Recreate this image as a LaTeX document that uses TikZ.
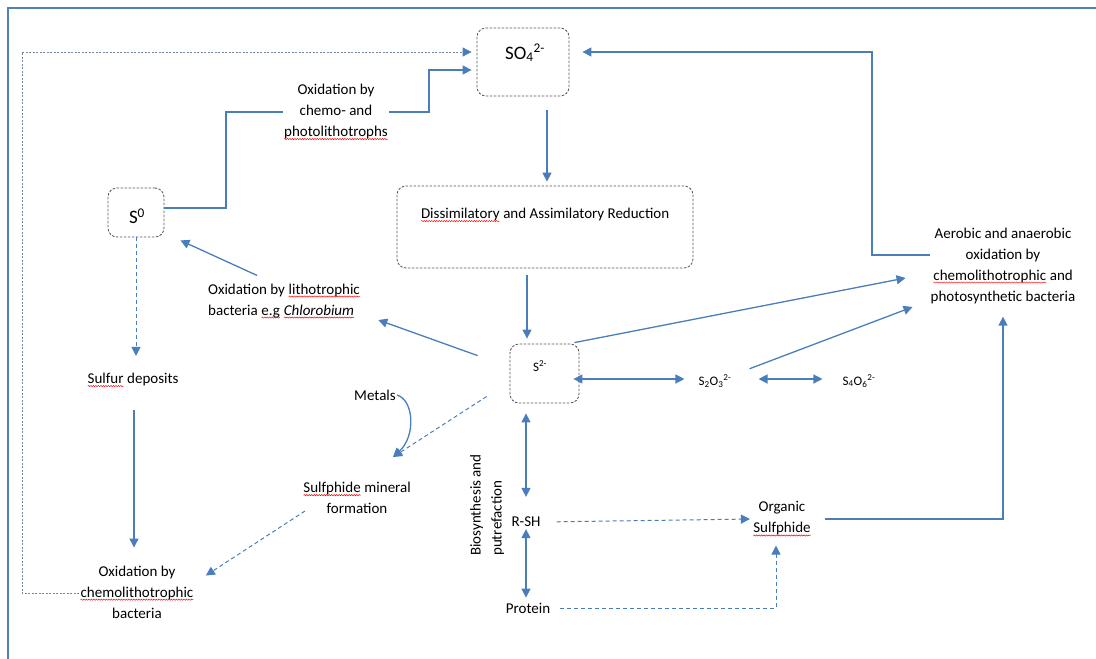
\documentclass[tikz,border=0pt]{standalone}
\usepackage{fontspec}
\setmainfont{Carlito}
\usetikzlibrary{arrows.meta,calc,decorations.pathmorphing}
\definecolor{ablue}{RGB}{74,126,187}
\definecolor{bgray}{RGB}{85,85,85}
\definecolor{fblue}{RGB}{79,129,189}
\definecolor{lgray}{RGB}{120,135,160}
\newcommand\redsq[1]{\tikz[baseline=(w.base)]{\node[inner sep=0pt, outer sep=0pt](w){#1}; \draw[red, line width=0.5pt, decorate, decoration={snake, amplitude=0.6pt, segment length=2.5pt}] ([yshift=-2.5pt]w.base west) -- ([yshift=-2.5pt]w.base east);}}
\begin{document}
\begin{tikzpicture}[x=1pt,y=-1pt,
  every node/.style={font=\fontsize{15}{21}\selectfont, inner sep=1pt},
  tri/.tip={Triangle[length=9pt,width=9pt]},
  arr/.style={draw=ablue, line width=1.3pt, -tri},
  darr/.style={draw=ablue, line width=1.3pt, tri-tri},
  bline/.style={draw=ablue, line width=1.3pt},
  dline/.style={draw=ablue, line width=1pt, dash pattern=on 4pt off 3pt, -tri},
  loopline/.style={draw=lgray, line width=0.8pt, dash pattern=on 2pt off 1.5pt, -{Triangle[length=9pt,width=9pt,color=ablue]}},
  dbox/.style={draw=bgray, line width=0.8pt, dash pattern=on 2.5pt off 1.5pt, rounded corners=9pt},
  txt/.style={align=center},
  small/.style={font=\fontsize{13}{15}\selectfont},
  big/.style={font=\fontsize{19}{22}\selectfont}]
\path[use as bounding box] (0,0) rectangle (1096,659);
\draw[fblue, line width=1.5pt] (1096,8) -- (8,8) -- (8,659);

% boxes
\node[dbox, minimum width=92pt, minimum height=68pt] (so4) at (523,62) {};
\node[big] (so4t) at (525,53) {SO\textsubscript{4}\textsuperscript{2-}};
\node[dbox, minimum width=56pt, minimum height=49pt] (s0) at (136,212.5) {};
\node[big] (s0t) at (137,216) {S\textsuperscript{0}};
\node[dbox, minimum width=296pt, minimum height=82pt] (diss) at (545,227) {};
\node (disst) at (545,215) {\redsq{Dissimilatory} and Assimilatory Reduction};
\node[dbox, minimum width=69pt, minimum height=59pt] (s2) at (544.5,373.5) {};
\node[small] (s2t) at (540,366) {S\textsuperscript{2-}};

% texts
\node[small] (s2o3) at (715,381) {S\textsubscript{2}O\textsubscript{3}\textsuperscript{2-}};
\node[small] (s4o6) at (859,381) {S\textsubscript{4}O\textsubscript{6}\textsuperscript{2-}};
\node[txt] (oxchemo) at (336,112) {Oxidation by\\chemo- and\\\redsq{photolithotrophs}};
\node[txt] (aer) at (1003,265.5) {Aerobic and anaerobic\\oxidation by\\\redsq{chemolithotrophic} and\\photosynthetic bacteria};
\node[align=left, anchor=west] (oxlith) at (207,301) {Oxidation by \redsq{lithotrophic}\\bacteria \redsq{e.g} \redsq{\textit{Chlorobium}}};
\node (sulfur) at (133,380) {\redsq{Sulfur} deposits};
\node[txt] (oxchl) at (137,592) {Oxidation by\\\redsq{chemolithotrophic}\\bacteria};
\node (metals) at (375,395) {Metals};
\node[txt] (sulfph) at (357,498) {\redsq{Sulfphide} mineral\\formation};
\node[rotate=90, align=left, anchor=west] (bio) at (487,557) {Biosynthesis and\\putrefaction};
\node (rsh) at (526,522) {R-SH};
\node (prot) at (528,608) {Protein};
\node[txt] (org) at (782,519) {Organic\\\redsq{Sulfphide}};

\coordinate (mt) at ($(sulfph.north)+(36,-24)$);

% connectors
\draw[bline] (s0.east |- 0,208) -| (226,112) -- (oxchemo.west);
\draw[arr, shorten >=5pt] (oxchemo.east) -| (429,70) -- (so4.west |- 0,70);
\draw[loopline, shorten >=5pt] (oxchl.west |- 0,593) -- (22,593) -- (22,52) -- (so4.west |- 0,52);
\draw[arr, shorten >=13pt] (aer.west |- 0,255) -| (872,52) -- (so4.east |- 0,52);
\draw[arr, shorten <=14pt, shorten >=4pt] (so4.south -| 547,0) -- (diss.north -| 547,0);
\draw[arr, shorten <=7pt, shorten >=5pt] (diss.south -| 527,0) -- (s2.north -| 527,0);
\draw[darr, shorten <=-6pt] (s2.east |- 0,379) -- ($(s2o3.west |- 0,379)+(-13,0)$);
\draw[darr] ($(s2o3.east)+(26,-2)$) -- ($(s4o6.west)+(-19,-2)$);
\draw[arr] ($(s2.north east)+(-5,-1)$) -- ($(aer.west |- 0,278)+(-24,0)$);
\draw[arr] ($(s2o3.north east)+(17,-5)$) -- ($(aer.west |- 0,307)+(-17,0)$);
\draw[arr, shorten <=13pt] (org.east) -| ($(aer.south)+(0,12)$);
\draw[arr] ($(s2.north west)+(-32,12)$) -- ($(oxlith.east)+(17,19)$);
\draw[arr] ($(oxlith.north west)+(50,-7)$) -- ($(s0.south east)+(16,3)$);
\draw[arr] (metals.east) .. controls (414,400) and (416,436) .. (mt);
\draw[dline] ($(s2.west)+(-23,23)$) -- (mt);
\draw[dline] ($(sulfph.west)+(3,13)$) -- ($(oxchl.north east)+(11,11)$);
\draw[dline, shorten >=16pt] (s0.south) -- (s0.south |- sulfur.north);
\draw[arr, shorten <=22pt, shorten >=17pt] (sulfur.south -| 134,0) -- (oxchl.north -| 134,0);
\draw[darr, shorten <=10pt, shorten >=19pt] (rsh.north |- s2.south) -- (rsh.north);
\draw[darr, shorten <=1pt, shorten >=4pt] (rsh.south) -- (rsh.south |- prot.north);
\draw[dline, shorten <=15pt, shorten >=2pt] (rsh.east) -- (org.west);
\draw[dline, shorten <=9pt] (prot.east) -| ($(org.south)+(-6,8)$);
\end{tikzpicture}
\end{document}
